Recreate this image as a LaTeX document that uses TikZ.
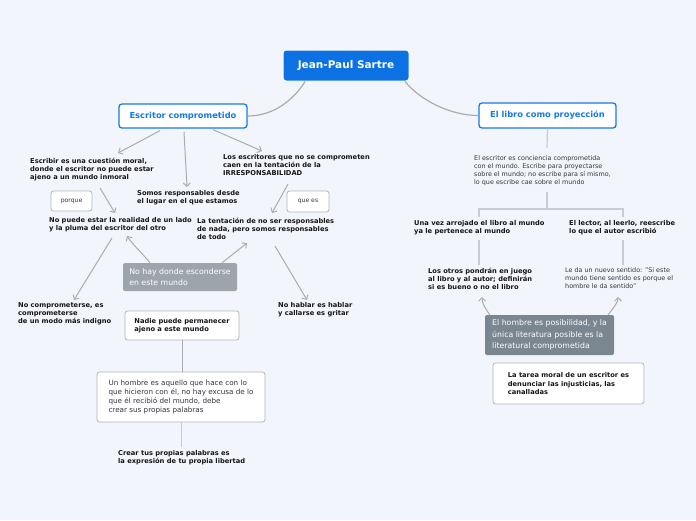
\documentclass[tikz,border=0pt]{standalone}
\usepackage{fontspec}
\setmainfont{DejaVu Sans}
\usetikzlibrary{arrows.meta}
\definecolor{bg}{RGB}{243,245,253}
\definecolor{rootblue}{RGB}{12,113,226}
\definecolor{mainblue}{RGB}{22,121,230}
\definecolor{txt}{RGB}{22,22,26}
\definecolor{txtn}{RGB}{52,54,62}
\definecolor{boxgray}{RGB}{178,180,186}
\definecolor{arrgray}{RGB}{170,172,176}
\definecolor{treegray}{RGB}{200,203,210}
\definecolor{gboxa}{RGB}{157,165,171}
\definecolor{gboxb}{RGB}{122,134,144}
\begin{document}
\begin{tikzpicture}[x=1pt,y=-1pt,
  bt/.style={font=\bfseries\fontsize{6.7}{8}\selectfont, align=left, inner sep=0pt, anchor=north west, text=txt},
  nt/.style={font=\fontsize{6.4}{8}\selectfont, align=left, inner sep=0pt, anchor=north west, text=txtn},
  wbox/.style={draw=boxgray, fill=white, rounded corners=2.5pt, line width=0.8pt, inner sep=0pt, align=left, text=txt},
  mainbox/.style={draw=mainblue, fill=white, rounded corners=3pt, line width=1.3pt, inner sep=0pt, text=mainblue, font=\bfseries\fontsize{8.3}{10}\selectfont},
  gbox/.style={rounded corners=2pt, inner sep=0pt, text=white, align=left, font=\fontsize{7.8}{11.5}\selectfont},
  arr/.style={draw=arrgray, line width=1pt, -{Straight Barb[length=3.5pt,width=7pt]}},
  conn/.style={draw=arrgray, line width=1.2pt},
  tree/.style={draw=treegray, line width=1.2pt},
]
\fill[bg] (0,0) rectangle (696,520);
\useasboundingbox (0,0) rectangle (696,520);

% main nodes
\node[fill=rootblue, draw=white, line width=1pt, rounded corners=3pt, minimum width=126pt, minimum height=31pt, inner sep=0pt, text=white, font=\bfseries\fontsize{10.5}{12}\selectfont] (root) at (346,65.5) {Jean-Paul Sartre};
\node[mainbox, minimum width=128pt, minimum height=24pt] (esc) at (183,116) {Escritor comprometido};
\node[mainbox, minimum width=137pt, minimum height=25pt] (libro) at (547.5,115.5) {El libro como proyección};

% left branch
\node[bt] (moral) at (30,158) {Escribir es una cuestión moral,\\donde el escritor no puede estar\\ajeno a un mundo inmoral};
\node[bt] (somos) at (137,190.5) {Somos responsables desde\\el lugar en el que estamos};
\node[bt] (irresp) at (223,154.5) {Los escritores que no se comprometen\\caen en la tentación de la\\IRRESPONSABILIDAD};
\node[wbox, minimum width=41pt, minimum height=20pt, font=\fontsize{6.1}{7}\selectfont, text=txtn] (porque) at (71.5,201) {porque};
\node[wbox, minimum width=42pt, minimum height=21pt, font=\fontsize{6.1}{7}\selectfont, text=txtn] (quees) at (308,201.5) {que es};
\node[bt] (realidad) at (49,217.5) {No puede estar la realidad de un lado\\y la pluma del escritor del otro};
\node[bt] (tentacion) at (197,217.5) {La tentación de no ser responsables\\de nada, pero somos responsables\\de todo};
\node[gbox, fill=gboxa, minimum width=114pt, minimum height=28pt] (esconder) at (180,277) {No hay donde esconderse\\en este mundo};
\node[bt] (indigno) at (18,302.5) {No comprometerse, es\\comprometerse\\de un modo más indigno};
\node[bt] (hablar) at (278,302.5) {No hablar es hablar\\y callarse es gritar};
\node[wbox, minimum width=114pt, minimum height=29pt, font=\bfseries\fontsize{6.7}{8}\selectfont] (nadie) at (182,325.5) {Nadie puede permanecer\\ajeno a este mundo};
\node[wbox, minimum width=168pt, minimum height=50pt, font=\fontsize{7.2}{9}\selectfont, text=txtn] (hombre) at (181,397) {Un hombre es aquello que hace con lo\\que hicieron con él, no hay excusa de lo\\que él recibió del mundo, debe\\crear sus propias palabras};
\node[bt] (crear) at (118,450.5) {Crear tus propias palabras es\\la expresión de tu propia libertad};

% right branch
\node[nt] (concien) at (474,155.5) {El escritor es conciencia comprometida\\con el mundo. Escribe para proyectarse\\sobre el mundo; no escribe para sí mismo,\\lo que escribe cae sobre el mundo};
\node[bt] (arrojado) at (414,220.5) {Una vez arrojado el libro al mundo\\ya le pertenece al mundo};
\node[bt] (lector) at (569,220.5) {El lector, al leerlo, reescribe\\lo que el autor escribió};
\node[bt] (otros) at (428,267.5) {Los otros pondrán en juego\\al libro y al autor; definirán\\si es bueno o no el libro};
\node[nt] (sentido) at (565,267.5) {Le da un nuevo sentido: "Si este\\mundo tiene sentido es porque el\\hombre le da sentido"};
\node[gbox, fill=gboxb, minimum width=129pt, minimum height=40pt] (posib) at (549.5,335) {El hombre es posibilidad, y la\\única literatura posible es la\\literatural comprometida};
\node[wbox, minimum width=151pt, minimum height=41pt, font=\bfseries\fontsize{6.7}{8.5}\selectfont] (tarea) at (568.5,383.5) {La tarea moral de un escritor es\\denunciar las injusticias, las\\canalladas};

% root connectors
\draw[conn] ([xshift=-41pt]root.south) .. controls (295,98) and (275,116) .. (esc.east);
\draw[conn] ([xshift=59pt]root.south) .. controls (420,100) and (450,115.5) .. (libro.west);

% left arrows
\draw[arr] ([shift={(-23,2)}]esc.south) -- ([shift={(88,-5)}]moral.north west);
\draw[arr] ([shift={(1,3)}]esc.south) -- ([shift={(50,-3.5)}]somos.north west);
\draw[arr] ([shift={(30,1)}]esc.south) -- ([shift={(39,-3.5)}]irresp.north west);
\draw[arr] ([shift={(70,30)}]moral.north west) -- ([shift={(66,-4.5)}]realidad.north west);
\draw[arr] ([shift={(65,29.5)}]irresp.north west) -- ([shift={(75,-4.5)}]tentacion.north west);
\draw[arr] ([shift={(-30,0)}]esconder.north) .. controls +(-8,-10) and +(5,8) .. ([shift={(78,18.5)}]realidad.north west);
\draw[arr] ([shift={(42,0)}]esconder.north) -- ([shift={(50,25.5)}]tentacion.north west);
\draw[arr] ([shift={(63,20.5)}]realidad.north west) -- ([shift={(56,-2.5)}]indigno.north west);
\draw[arr] ([shift={(78,28.5)}]tentacion.north west) -- ([shift={(29,-2.5)}]hablar.north west);
\draw[conn, line width=0.9pt] (nadie.south) -- (nadie.south |- hombre.north);
\draw[tree, line width=0.9pt] (hombre.south) -- ([shift={(63,-3.5)}]crear.north west);

% right connectors
\draw[tree] (libro.south) -- ([shift={(73,-7.5)}]concien.north west);
\draw[tree] ([shift={(73,36.5)}]concien.north west) -- ++(0,17) coordinate (fork);
\draw[tree] ([shift={(65,-3.5)}]arrojado.north west) |- (fork) -| ([shift={(54,-3.5)}]lector.north west);
\draw[tree] ([shift={(65,19.5)}]arrojado.north west) -- ([shift={(51,-2.5)}]otros.north west);
\draw[tree] ([shift={(54,19.5)}]lector.north west) -- ([shift={(58,-2.5)}]sentido.north west);
\draw[arr] ([shift={(5,0)}]posib.north west) .. controls +(-5,-7) and +(0,6) .. ([shift={(54,29.5)}]otros.north west);
\draw[arr] ([shift={(-6,0)}]posib.north east) .. controls +(5,-7) and +(0,6) .. ([shift={(53,29.5)}]sentido.north west);
\end{tikzpicture}
\end{document}
